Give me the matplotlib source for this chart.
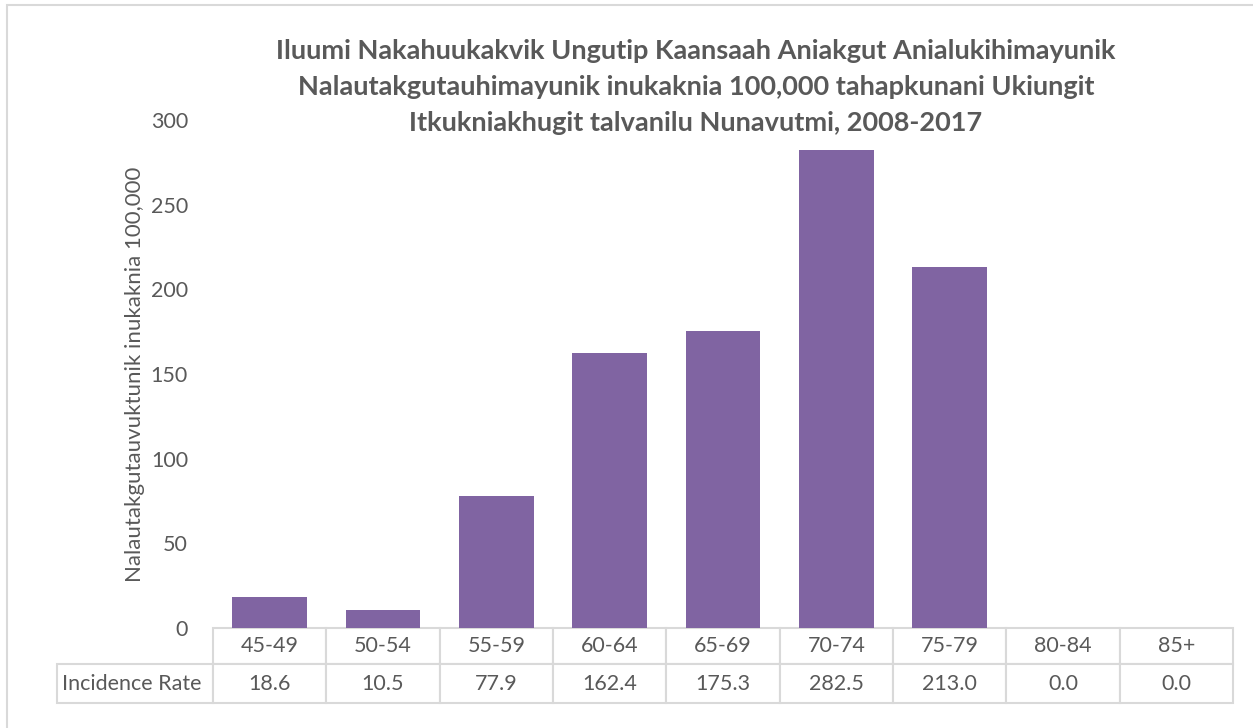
import matplotlib.pyplot as plt
from matplotlib.patches import Rectangle
from matplotlib.table import Table

# Datos del gráfico
age_groups = ['45-49', '50-54', '55-59', '60-64', '65-69', '70-74', '75-79', '80-84', '85+']
incidence_rate = [18.6, 10.5, 77.9, 162.4, 175.3, 282.5, 213.0, 0.0, 0.0]
row_label = 'Incidence Rate'
y_ticks = [0, 50, 100, 150, 200, 250, 300]

title = ('Iluumi Nakahuukakvik Ungutip Kaansaah Aniakgut Anialukihimayunik\n'
         'Nalautakgutauhimayunik inukaknia 100,000 tahapkunani Ukiungit\n'
         'Itkukniakhugit talvanilu Nunavutmi, 2008-2017')
y_label = 'Nalautakgutauvuktunik inukaknia 100,000'

W, H = 1253, 728
bar_color = '#8064A2'
text_color = '#595959'
grid_color = '#D9D9D9'
font = 'Lato'
fs = 15.5

plt.rcParams['font.family'] = [font, 'DejaVu Sans']

fig = plt.figure(figsize=(W / 100, H / 100), dpi=100)

# Marco exterior del gráfico
fig.patches.append(Rectangle((7 / W, -0.05), 1.2, 1 - 5 / H + 0.05, transform=fig.transFigure,
                             fill=False, edgecolor=grid_color, linewidth=1.5))

# Área de trazado en píxeles
left, right, top, bottom = 213, 1233, 120, 628
ax = fig.add_axes([left / W, (H - bottom) / H, (right - left) / W, (bottom - top) / H])

x = range(len(age_groups))
ax.bar(x, incidence_rate, width=0.66, color=bar_color)
ax.set_xlim(-0.5, len(age_groups) - 0.5)
ax.set_ylim(0, 300)
ax.set_yticks(y_ticks)
ax.set_xticks([])
ax.tick_params(axis='y', length=0, pad=18, labelsize=fs, labelcolor=text_color)
for s in ax.spines.values():
    s.set_visible(False)

ax.set_ylabel(y_label, fontsize=16, color=text_color, labelpad=4)

# Tabla de datos debajo del gráfico (coordenadas en fracción del eje)
lab_left = 57
row_h = [36 / (bottom - top), 39 / (bottom - top)]
col_w = 1 / len(age_groups)
lab_w = (left - lab_left) / (right - left)

tbl = Table(ax)
tbl.auto_set_font_size(False)
for j, g in enumerate(age_groups):
    tbl.add_cell(0, j, width=col_w, height=row_h[0], text=g, loc='center')
    tbl.add_cell(1, j, width=col_w, height=row_h[1], text=f'{incidence_rate[j]:.1f}', loc='center')
tbl.add_cell(1, -1, width=lab_w, height=row_h[1], text=row_label, loc='left')
tbl[(1, -1)].PAD = 0.03
for key, cell in tbl.get_celld().items():
    cell.set_edgecolor(grid_color)
    cell.set_linewidth(1.5)
    cell.get_text().set_color(text_color)
    cell.get_text().set_fontsize(fs)
# la caja solo cubre las celdas de datos; la columna de etiqueta queda a la izquierda
tbl._bbox = [0, -(row_h[0] + row_h[1]), 1, row_h[0] + row_h[1]]
ax.add_table(tbl)

fig.text(696 / W, 1 - 87 / H, title, ha='center', va='center', fontsize=19.5,
         fontweight='bold', color=text_color, linespacing=1.58)

fig.savefig('out.png', dpi=100)
